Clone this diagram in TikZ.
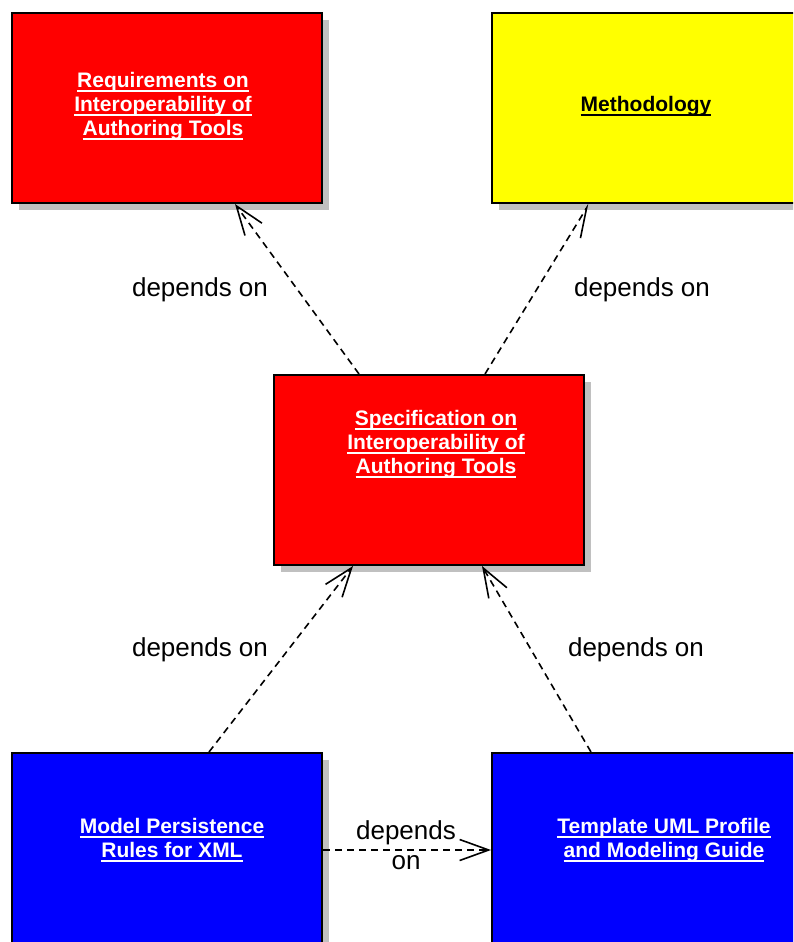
\documentclass[tikz,border=0pt]{standalone}
\usepackage{fontspec}
\setmainfont{Liberation Sans}
\usetikzlibrary{arrows.meta,shadows}
\definecolor{boxred}{HTML}{FF0000}
\definecolor{boxyellow}{HTML}{FFFF00}
\definecolor{boxblue}{HTML}{0000FF}
\definecolor{shadowgray}{HTML}{C0C0C0}
\newcommand\ulx[1]{\setbox0\hbox{#1}\rlap{\rule[-4.5pt]{\wd0}{2pt}}\box0}
\tikzset{
  pkg/.style={draw=black, line width=2pt, minimum width=310pt, minimum height=190pt,
    inner sep=0pt, drop shadow={shadow xshift=7pt, shadow yshift=-7pt, fill=shadowgray, opacity=1}},
  pkgtext/.style={align=center, font=\fontsize{21}{24}\selectfont\bfseries, inner sep=0pt},
  deplabel/.style={align=center, font=\fontsize{26}{30}\selectfont, inner sep=0pt},
  dep/.style={dash pattern=on 7pt off 5pt, line width=1.6pt,
    -{Straight Barb[length=29pt,width=21pt,line width=1.6pt]}},
  dephalf/.style={dash pattern=on 7pt off 5pt, line width=1.6pt,
    -{Straight Barb[length=29pt,width=21pt,line width=1.6pt,harpoon,swap]}}
}
\begin{document}
\begin{tikzpicture}[x=1pt,y=-1pt]
\useasboundingbox (0,0) rectangle (793,942);
\clip (0,0) rectangle (793,942);
% boxes
\node[pkg, fill=boxred] (A) at (167,108) {};
\node[pkg, fill=boxyellow] (B) at (647,108) {};
\node[pkg, fill=boxred] (C) at (429,470) {};
\node[pkg, fill=boxblue, minimum height=240pt] (D) at (167,873) {};
\node[pkg, fill=boxblue, minimum height=240pt] (E) at (647,873) {};
% box texts
\node[pkgtext, text=white] (At) at (163,106.5) {\ulx{Requirements on}\\\ulx{Interoperability of}\\\ulx{Authoring Tools}};
\node[pkgtext, text=black] (Bt) at (646,106.5) {\ulx{Methodology}};
\node[pkgtext, text=white] (Ct) at (436,444.5) {\ulx{Specification on}\\\ulx{Interoperability of}\\\ulx{Authoring Tools}};
\node[pkgtext, text=white] (Dt) at (172,840.5) {\ulx{Model Persistence}\\\ulx{Rules for XML}};
\node[pkgtext, text=white] (Et) at (664,840.5) {\ulx{Template UML Profile}\\\ulx{and Modeling Guide}};
% dependencies
\draw[dep] ([xshift=86pt]C.north west) -- ([xshift=224pt]A.south west);
\draw[dephalf] ([xshift=212pt]C.north west) -- ([xshift=98pt]B.south west);
\draw[dep] ([xshift=198pt]D.north west) -- ([xshift=80pt]C.south west);
\draw[dep] ([xshift=100pt]E.north west) -- ([xshift=209pt]C.south west);
\draw[dep] ([yshift=-98pt]D.north east) -- ([yshift=-98pt]E.north west);
% labels
\node[deplabel] (l1) at (200,290) {depends on};
\node[deplabel] (l2) at (642,290) {depends on};
\node[deplabel] (l3) at (200,650) {depends on};
\node[deplabel] (l4) at (636,650) {depends on};
\node[deplabel] (l5) at (406,845) {depends\\on};
\end{tikzpicture}
\end{document}
